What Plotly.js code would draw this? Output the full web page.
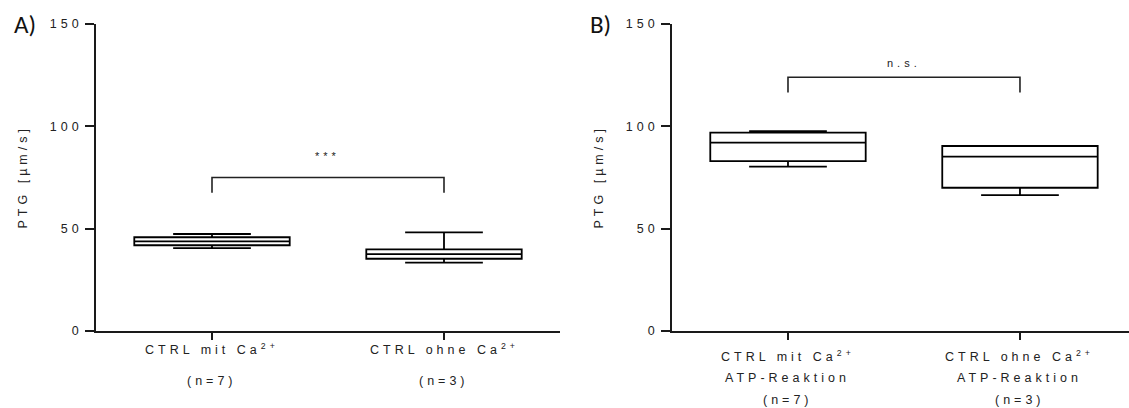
<!DOCTYPE html>
<html>
<head>
<meta charset="utf-8">
<script src="https://cdn.plot.ly/plotly-3.0.1.min.js"></script>
<style>
  html, body { margin: 0; padding: 0; background: #fff; }
  #chart { width: 1129px; height: 408px; }
  #chart svg text { letter-spacing: 4px; }
</style>
</head>
<body>
<div id="chart"></div>
<script>
// ---- data ----
const catsA = ['CTRL mit Ca<sup>2+</sup>', 'CTRL ohne Ca<sup>2+</sup>'];
const subA = [['(n=7)'], ['(n=3)']];
const lowA = [40.5, 33.4];
const q1A = [41.9, 35.3];
const medA = [43.8, 37.6];
const q3A = [45.8, 39.9];
const highA = [47.4, 48.2];

const catsB = ['CTRL mit Ca<sup>2+</sup>', 'CTRL ohne Ca<sup>2+</sup>'];
const subB = [['ATP-Reaktion', '(n=7)'], ['ATP-Reaktion', '(n=3)']];
const lowB = [80.3, 66.4];
const q1B = [83.0, 70.0];
const medB = [92.0, 85.2];
const q3B = [96.9, 90.4];
const highB = [97.7, 90.4];

const sigA = {label: '***', y: 75, drop: 7.5};
const sigB = {label: 'n.s.', y: 124, drop: 7.5};

const yTicks = [0, 50, 100, 150];
const yTitle = 'PTG [µm/s]';
const panelLabels = ['A)', 'B)'];

// ---- layout helpers ----
const W = 1129;
const FONT = "'Liberation Sans', Arial, sans-serif";
const INK = '#1a1a1a';

function boxTrace(xa, ya, lows, q1, med, q3, highs) {
  return {
    type: 'box', xaxis: xa, yaxis: ya,
    x: [0, 1], q1: q1, median: med, q3: q3,
    lowerfence: lows, upperfence: highs,
    boxpoints: false, width: 0.67, whiskerwidth: 0.5,
    fillcolor: '#ffffff', line: {color: '#000000', width: 1.8},
    hoverinfo: 'skip', showlegend: false
  };
}

const data = [
  boxTrace('x', 'y', lowA, q1A, medA, q3A, highA),
  boxTrace('x2', 'y2', lowB, q1B, medB, q3B, highB)
];

function xAxis(domain, range, anchor) {
  return {
    domain: domain, range: range, anchor: anchor,
    tickvals: [0, 1], showticklabels: false,
    showline: true, linecolor: INK, linewidth: 1.8,
    ticks: 'outside', ticklen: 7, tickwidth: 1.8, tickcolor: INK,
    showgrid: false, zeroline: false, fixedrange: true
  };
}
function yAxis(anchor) {
  return {
    anchor: anchor, range: [0, 150], tickvals: yTicks,
    showline: true, linecolor: INK, linewidth: 1.8,
    ticks: 'outside', ticklen: 9, tickwidth: 1.8, tickcolor: INK,
    tickfont: {family: FONT, size: 12.5, color: '#222'},
    showgrid: false, zeroline: false, fixedrange: true
  };
}

const domA = [96 / W, 560 / W];
const domB = [672 / W, 1];

const annotations = [];
const shapes = [];

function addPanel(xref, yref, dom, cats, subs, sig, letter) {
  // category labels
  cats.forEach((c, i) => {
    const lines = [c].concat(subs[i]);
    const gap = subs[i].length === 1 ? 32 : 22;
    const first = subs[i].length === 1 ? 18 : 25;
    lines.forEach((t, j) => {
      annotations.push({
        xref: xref, yref: 'paper', x: i, y: 0,
        yshift: -(first + j * gap), yanchor: 'middle', xanchor: 'center',
        text: t, showarrow: false,
        font: {family: FONT, size: 12.5, color: '#222'}
      });
    });
  });
  // y title
  annotations.push({
    xref: 'paper', yref: 'paper', x: dom[0], y: 0.5, xshift: -74,
    xanchor: 'center', yanchor: 'middle', textangle: -90,
    text: yTitle, showarrow: false,
    font: {family: FONT, size: 12.5, color: '#222'}
  });
  // panel letter
  annotations.push({
    xref: 'paper', yref: 'paper', x: dom[0], y: 1, xshift: -84, yshift: 0,
    xanchor: 'left', yanchor: 'middle',
    text: letter, showarrow: false,
    font: {family: "Carlito, 'Open Sans', sans-serif", size: 25, color: '#111'}
  });
  // significance bracket
  shapes.push({
    type: 'path', xref: xref, yref: yref,
    path: `M 0 ${sig.y - sig.drop} L 0 ${sig.y} L 1 ${sig.y} L 1 ${sig.y - sig.drop}`,
    line: {color: '#222', width: 1.6}
  });
  annotations.push({
    xref: xref, yref: yref, x: 0.5, y: sig.y, yshift: sig.label === '***' ? 22 : 14,
    xanchor: 'center', yanchor: 'middle',
    text: sig.label, showarrow: false,
    font: {family: FONT, size: 11, color: '#222'}
  });
}

addPanel('x', 'y', domA, catsA, subA, sigA, panelLabels[0]);
addPanel('x2', 'y2', domB, catsB, subB, sigB, panelLabels[1]);

const layout = {
  width: W, height: 408,
  margin: {l: 0, r: 0, t: 24, b: 77, pad: 0},
  paper_bgcolor: '#ffffff', plot_bgcolor: '#ffffff',
  showlegend: false,
  xaxis: xAxis(domA, [-0.5, 1.5], 'y'),
  yaxis: yAxis('x'),
  xaxis2: xAxis(domB, [-0.5, 1.47], 'y2'),
  yaxis2: yAxis('x2'),
  annotations: annotations,
  shapes: shapes,
  font: {family: FONT}
};

Plotly.newPlot('chart', data, layout, {staticPlot: true, displayModeBar: false}).then(gd => {
  gd.querySelectorAll('text.annotation-text').forEach(t => {
    if (panelLabels.includes(t.textContent)) t.style.letterSpacing = '0px';
  });
});
</script>
</body>
</html>
